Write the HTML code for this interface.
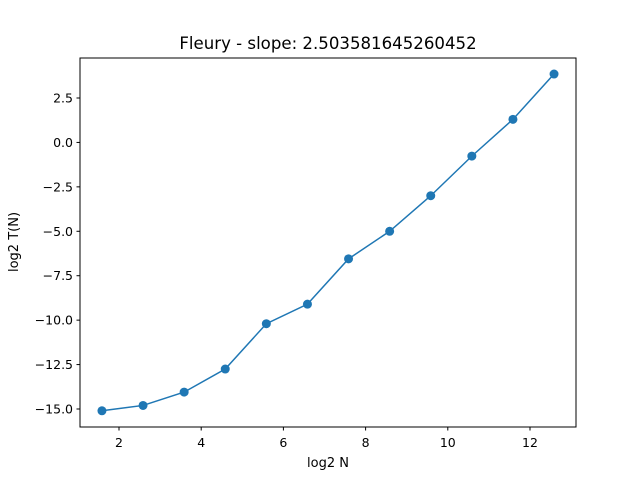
<!DOCTYPE html>
<html><head><meta charset="utf-8"><style>
body{margin:0;background:#fff;}
svg text{font-family:"DejaVu Sans","Liberation Sans",sans-serif;}
</style></head><body>
<svg id="chart" width="640" height="480" xmlns="http://www.w3.org/2000/svg">
<rect width="640" height="480" fill="#fff"/>
<text x="328" y="49" font-size="16.6" text-anchor="middle">Fleury - slope: 2.503581645260452</text>
<rect x="80" y="58" width="496" height="369" fill="none" stroke="#000" stroke-width="1"/>
<g id="xticks"></g><g id="yticks"></g><g id="series"></g>
<text x="328" y="467" font-size="13" text-anchor="middle">log2 N</text>
<text transform="translate(18,242) rotate(-90)" font-size="13" text-anchor="middle">log2 T(N)</text>
</svg>
<script>
const xValues=[1.585,2.585,3.585,4.585,5.585,6.585,7.585,8.585,9.585,10.585,11.585,12.585];
const yValues=[-15.1,-14.8,-14.05,-12.75,-10.2,-9.1,-6.55,-5.0,-3.0,-0.77,1.3,3.85];
const xTicks=[2,4,6,8,10,12];
const yTicks=[2.5,0.0,-2.5,-5.0,-7.5,-10.0,-12.5,-15.0];
const NS="http://www.w3.org/2000/svg";
function sx(v){return 119+(v-2)*(530-119)/10;}
function sy(v){return 98+(2.5-v)*(409-98)/17.5;}
function mk(tag,attrs,parent){const e=document.createElementNS(NS,tag);for(const k in attrs)e.setAttribute(k,attrs[k]);parent.appendChild(e);return e;}
const xt=document.getElementById('xticks'),yt=document.getElementById('yticks'),sg=document.getElementById('series');
xTicks.forEach(t=>{const x=sx(t);
 const l=mk('line',{x1:x,x2:x,y1:427,y2:430.5,stroke:'#000'},xt);
 
 
 const tx=mk('text',{x:x,y:447,'font-size':12.5,'text-anchor':'middle'},xt);tx.textContent=t;
 
 
});
yTicks.forEach(t=>{const y=sy(t);
 const l=mk('line',{x1:76.5,x2:80,y1:y,y2:y,stroke:'#000'},yt);
 
 
 const tx=mk('text',{x:73,y:y+4.5,'font-size':12.5,'text-anchor':'end'},yt);tx.textContent=(t<0?'\u2212':'')+Math.abs(t).toFixed(1);
 
 
});
const pts=xValues.map((x,i)=>sx(x)+','+sy(yValues[i])).join(' ');
const pl=mk('polyline',{points:pts,fill:'none',stroke:'#1f77b4','stroke-width':1.5},sg);


xValues.forEach((x,i)=>{const c=mk('circle',{cx:sx(x),cy:sy(yValues[i]),r:4.5,fill:'#1f77b4'},sg);
 
 
});
</script>
</body></html>
